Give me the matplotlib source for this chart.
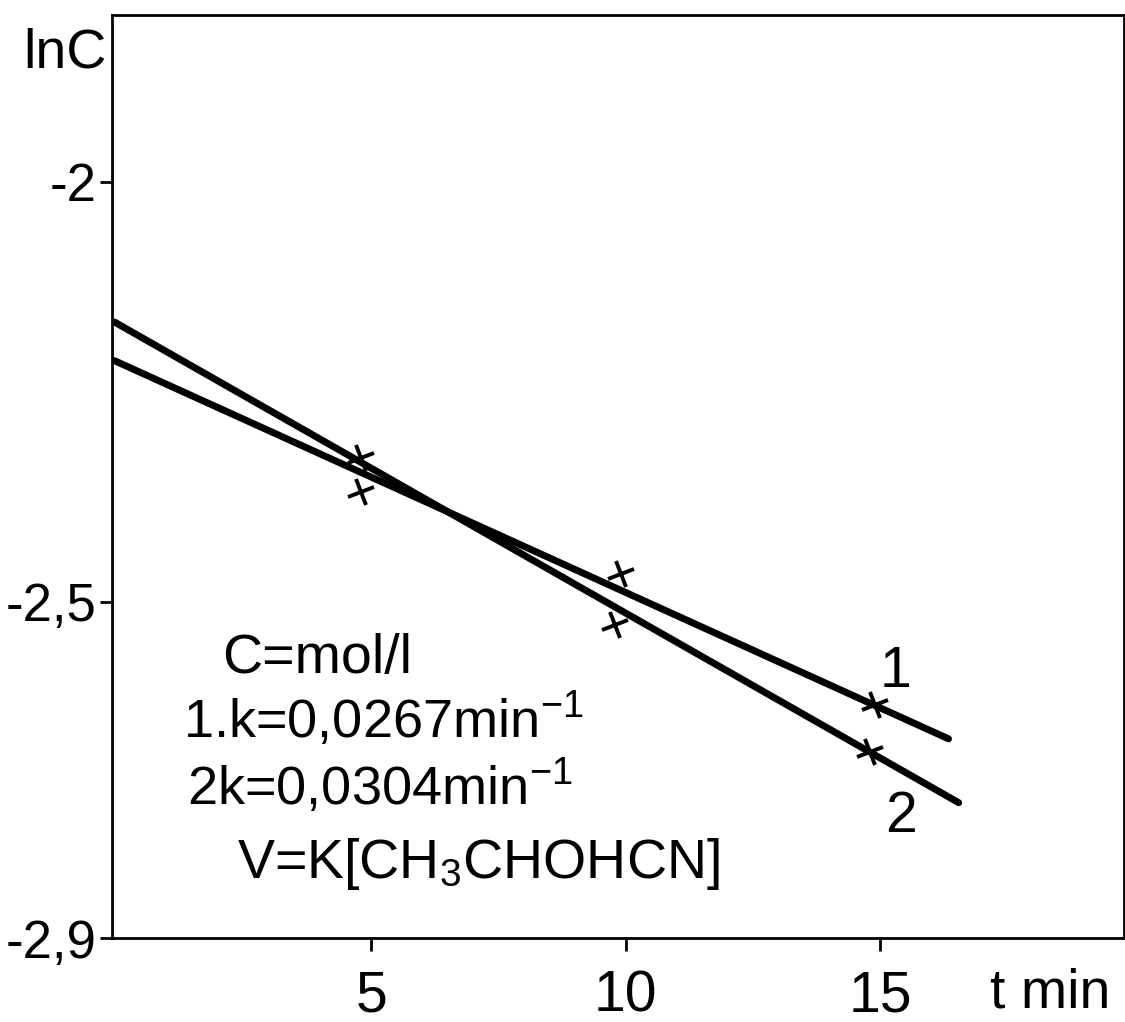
import matplotlib
matplotlib.use("Agg")
import matplotlib.pyplot as plt
from matplotlib.markers import MarkerStyle
from matplotlib.transforms import Affine2D

plt.rcParams['font.family'] = ['Liberation Sans', 'DejaVu Sans']
plt.rcParams['mathtext.fontset'] = 'custom'
plt.rcParams['mathtext.rm'] = 'Liberation Sans'
plt.rcParams['mathtext.it'] = 'Liberation Sans'

# measured points (t in min, lnC)
t_pts_1 = [4.8, 9.9, 14.9]
lnc_pts_1 = [-2.369, -2.467, -2.623]
t_pts_2 = [4.8, 9.8, 14.8]
lnc_pts_2 = [-2.329, -2.527, -2.679]

# fitted straight lines (end points)
t_fit_1 = [-0.05, 16.35]
lnc_fit_1 = [-2.213, -2.663]
t_fit_2 = [-0.05, 16.55]
lnc_fit_2 = [-2.167, -2.739]

x_ticks = [5, 10, 15]
x_tick_labels = ['5', '10', '15']
y_ticks = [-2.0, -2.5, -2.9]
y_tick_labels = ['-2', '-2,5', '-2,9']

fig = plt.figure(figsize=(11.25, 10.22), dpi=100)
ax = fig.add_axes([112 / 1125, 1 - 938 / 1022, 1012 / 1125, 923 / 1022])

ax.plot(t_fit_1, lnc_fit_1, color='black', lw=5, solid_capstyle='round')
ax.plot(t_fit_2, lnc_fit_2, color='black', lw=5, solid_capstyle='round')

cross = MarkerStyle('+', transform=Affine2D().rotate_deg(22))
ax.plot(t_pts_1, lnc_pts_1, ls='none', marker=cross, ms=20, mew=2.8, color='black')
ax.plot(t_pts_2, lnc_pts_2, ls='none', marker=cross, ms=20, mew=2.8, color='black')

ax.set_xlim(-0.1, 19.8)
ax.set_ylim(-2.9, -1.8016)
ax.set_xticks(x_ticks)
ax.set_xticklabels(x_tick_labels)
ax.set_yticks(y_ticks)
ax.set_yticklabels(y_tick_labels)
ax.tick_params(axis='x', direction='out', length=9, width=2, pad=14, labelsize=41)
ax.tick_params(axis='y', direction='out', length=9, width=2, pad=2, labelsize=38)
for sp in ax.spines.values():
    sp.set_linewidth(2)

ax.text(15.31, -2.601, '1', fontsize=41, ha='center', va='baseline')
ax.text(15.41, -2.774, '2', fontsize=41, ha='center', va='baseline')

ax.text(0.1087, 0.2871, 'C=mol/l', transform=ax.transAxes, fontsize=40, va='baseline')
ax.text(0.0702, 0.2167, r'1.k=0,0267min$^{-1}$', transform=ax.transAxes, fontsize=39, va='baseline')
ax.text(0.0741, 0.1441, r'2k=0,0304min$^{-1}$', transform=ax.transAxes, fontsize=39, va='baseline')
ax.text(0.1235, 0.065, r'V=K[CH$_3$CHOHCN]', transform=ax.transAxes, fontsize=40, va='baseline')

fig.text(107 / 1125, 1 - 68 / 1022, 'lnC', fontsize=40, ha='right', va='baseline')
fig.text(1110 / 1125, 1 - 1008 / 1022, 't min', fontsize=40, ha='right', va='baseline')

fig.savefig('out.png', dpi=100)
